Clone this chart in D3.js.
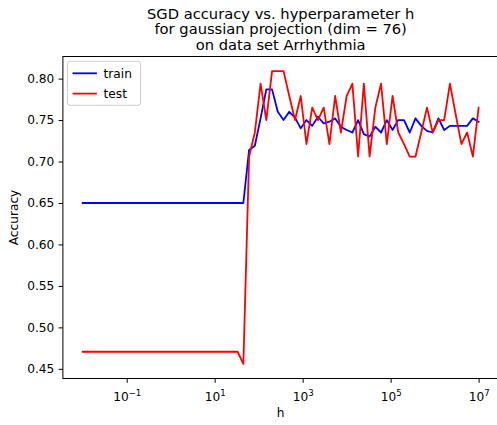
<!DOCTYPE html>
<html>
<head>
<meta charset="utf-8">
<script src="https://cdn.jsdelivr.net/npm/d3@7"></script>
<style>
  body { margin: 0; background: #fff; }
  svg { display: block; }
  text { font-family: "DejaVu Sans", sans-serif; fill: #000; }
</style>
</head>
<body>
<svg id="chart" width="497" height="425"></svg>
<script>
// Hyperparameter grid (70 log-spaced values from 1e-2 to 1e7)
const hValues = [
  0.01, 0.013503, 0.018233, 0.024621, 0.033246, 0.044892, 0.060618, 0.081853,
  0.11053, 0.14925, 0.20153, 0.27213, 0.36746, 0.49619, 0.67002, 0.90474,
  1.2217, 1.6497, 2.2276, 3.0080, 4.0618, 5.4847, 7.4061,
  10, 13.503, 18.233, 24.621, 33.246, 44.892, 60.618, 81.853,
  110.53, 149.25, 201.53, 272.13, 367.46, 496.19, 670.02, 904.74,
  1221.7, 1649.7, 2227.6, 3008.0, 4061.8, 5484.7, 7406.1,
  10000, 13503, 18233, 24621, 33246, 44892, 60618, 81853,
  110530, 149250, 201530, 272130, 367460, 496190, 670020, 904740,
  1221700, 1649700, 2227600, 3008000, 4061800, 5484700, 7406100,
  10000000
];

// Training accuracy for each h
const trainAcc = [
  0.65, 0.65, 0.65, 0.65, 0.65, 0.65, 0.65, 0.65, 0.65, 0.65,
  0.65, 0.65, 0.65, 0.65, 0.65, 0.65, 0.65, 0.65, 0.65, 0.65,
  0.65, 0.65, 0.65, 0.65, 0.65, 0.65, 0.65, 0.65, 0.65,
  0.714, 0.719, 0.752, 0.787, 0.787, 0.760, 0.750, 0.760, 0.753, 0.740,
  0.750, 0.743, 0.754, 0.746, 0.748, 0.752, 0.742, 0.738, 0.735, 0.750,
  0.733, 0.730, 0.742, 0.735, 0.750, 0.738, 0.750, 0.750, 0.735, 0.752,
  0.743, 0.737, 0.735, 0.752, 0.738, 0.743, 0.743, 0.743, 0.743, 0.752,
  0.748
];

// Test accuracy for each h
const testAcc = [
  0.4706, 0.4706, 0.4706, 0.4706, 0.4706, 0.4706, 0.4706, 0.4706, 0.4706, 0.4706,
  0.4706, 0.4706, 0.4706, 0.4706, 0.4706, 0.4706, 0.4706, 0.4706, 0.4706, 0.4706,
  0.4706, 0.4706, 0.4706, 0.4706, 0.4706, 0.4706, 0.4706, 0.4706,
  0.456, 0.706, 0.735, 0.794, 0.750, 0.809, 0.809, 0.809, 0.779, 0.750,
  0.779, 0.721, 0.765, 0.750, 0.765, 0.721, 0.779, 0.735, 0.779, 0.794,
  0.706, 0.794, 0.706, 0.765, 0.794, 0.721, 0.779, 0.735, 0.721, 0.706,
  0.706, 0.735, 0.765, 0.735, 0.750, 0.750, 0.794, 0.757, 0.721, 0.735,
  0.706, 0.765
];

const seriesNames = ["train", "test"];
const seriesColors = ["#0000ff", "#ff0000"];

const xTickValues = [1e-1, 1e1, 1e3, 1e5, 1e7];
const xTickExponents = ["\u22121", "1", "3", "5", "7"];
const yTickValues = [0.45, 0.50, 0.55, 0.60, 0.65, 0.70, 0.75, 0.80];

const titleLines = [
  "SGD accuracy vs. hyperparameter h",
  "for gaussian projection (dim = 76)",
  "on data set Arrhythmia"
];
const xLabel = "h";
const yLabel = "Accuracy";

// ---- layout ----
const W = 497, H = 425;
const plot = { left: 62.9, right: 498.4, top: 56.5, bottom: 378.5 };
const fs = 12.2;          // tick / label font size
const tickLen = 4.3;

const svg = d3.select("#chart");
svg.append("rect").attr("width", W).attr("height", H).attr("fill", "#fff");

// Scales with 5% padding around the data range
const lx = d3.extent(hValues).map(Math.log10);
const padX = (lx[1] - lx[0]) * 0.05;
const x = d3.scaleLog()
  .domain([Math.pow(10, lx[0] - padX), Math.pow(10, lx[1] + padX)])
  .range([plot.left, plot.right]);

const yExt = d3.extent(trainAcc.concat(testAcc));
const padY = (yExt[1] - yExt[0]) * 0.05;
const y = d3.scaleLinear()
  .domain([yExt[0] - padY, yExt[1] + padY])
  .range([plot.bottom, plot.top]);

// ---- series lines ----
const line = d3.line().x(d => x(d.h)).y(d => y(d.v));
const series = [trainAcc, testAcc].map((vals, i) => ({
  name: seriesNames[i],
  color: seriesColors[i],
  points: vals.map((v, j) => ({ h: hValues[j], v }))
}));

svg.append("defs").append("clipPath").attr("id", "plotClip")
  .append("rect")
  .attr("x", plot.left).attr("y", plot.top)
  .attr("width", plot.right - plot.left).attr("height", plot.bottom - plot.top);

const lines = svg.append("g").attr("clip-path", "url(#plotClip)");
series.forEach(s => {
  lines.append("path")
    .datum(s.points)
    .attr("d", line)
    .attr("fill", "none")
    .attr("stroke", s.color)
    .attr("stroke-width", 1.8)
    .attr("stroke-linejoin", "round")
    .attr("stroke-linecap", "square");
});

// ---- axes ----
const yAxis = d3.axisLeft(y)
  .tickValues(yTickValues)
  .tickFormat(d3.format(".2f"))
  .tickSize(tickLen)
  .tickPadding(4.3);
const gy = svg.append("g").attr("transform", `translate(${plot.left},0)`).call(yAxis);
gy.select(".domain").remove();
gy.selectAll(".tick line").attr("stroke", "#000").attr("stroke-width", 1);
gy.selectAll(".tick text")
  .attr("font-size", fs)
  .attr("font-family", "DejaVu Sans, sans-serif")
  .attr("fill", "#000");

const xAxis = d3.axisBottom(x)
  .tickValues(xTickValues)
  .tickFormat("")
  .tickSize(tickLen);
const gx = svg.append("g").attr("transform", `translate(0,${plot.bottom})`).call(xAxis);
gx.select(".domain").remove();
gx.selectAll(".tick line").attr("stroke", "#000").attr("stroke-width", 1);
gx.selectAll(".tick").each(function (d, i) {
  const t = d3.select(this).append("text")
    .attr("y", 22.5)
    .attr("text-anchor", "middle")
    .attr("font-size", fs)
    .attr("fill", "#000");
  t.append("tspan").text("10");
  t.append("tspan")
    .attr("font-size", fs * 0.7)
    .attr("dy", -5.2)
    .text(xTickExponents[i]);
});

// spines
svg.append("rect")
  .attr("x", plot.left).attr("y", plot.top)
  .attr("width", plot.right - plot.left).attr("height", plot.bottom - plot.top)
  .attr("fill", "none").attr("stroke", "#000").attr("stroke-width", 1);

// ---- labels ----
svg.append("text")
  .attr("x", (plot.left + plot.right) / 2)
  .attr("y", 417.3)
  .attr("text-anchor", "middle")
  .attr("font-size", fs)
  .text(xLabel);

svg.append("text")
  .attr("transform", `translate(17.5,${(plot.top + plot.bottom) / 2}) rotate(-90)`)
  .attr("text-anchor", "middle")
  .attr("font-size", fs)
  .text(yLabel);

const titleY = [19, 34.3, 49.5];
titleLines.forEach((t, i) => {
  svg.append("text")
    .attr("x", (plot.left + plot.right) / 2)
    .attr("y", titleY[i])
    .attr("text-anchor", "middle")
    .attr("font-size", 14.7)
    .text(t);
});

// ---- legend ----
const lg = svg.append("g");
const lgX = 67.5, lgY = 61.3, lgW = 73, lgH = 44;
lg.append("rect")
  .attr("x", lgX).attr("y", lgY)
  .attr("width", lgW).attr("height", lgH)
  .attr("rx", 2.5).attr("ry", 2.5)
  .attr("fill", "#fff").attr("fill-opacity", 0.8)
  .attr("stroke", "#cccccc").attr("stroke-width", 1);
series.forEach((s, i) => {
  const cy = lgY + 12 + i * 20.3;
  lg.append("line")
    .attr("x1", lgX + 5).attr("x2", lgX + 29.4)
    .attr("y1", cy).attr("y2", cy)
    .attr("stroke", s.color).attr("stroke-width", 1.8);
  lg.append("text")
    .attr("x", lgX + 36)
    .attr("y", cy + 4.4)
    .attr("font-size", fs)
    .text(s.name);
});
</script>
</body>
</html>
